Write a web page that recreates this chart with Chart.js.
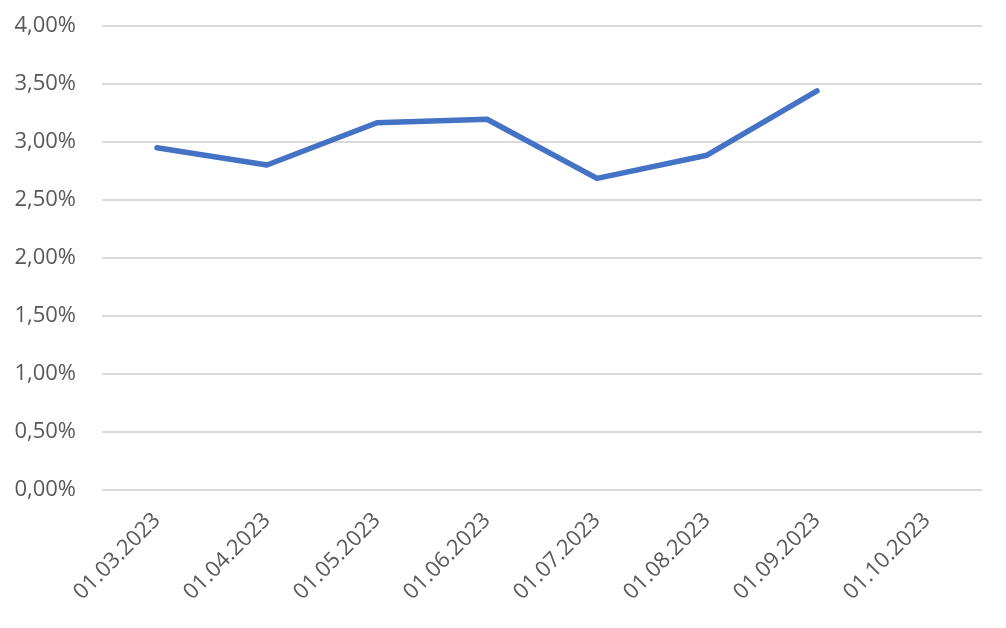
<!DOCTYPE html>
<html>
<head>
<meta charset="utf-8">
<script src="https://cdn.jsdelivr.net/npm/chart.js@4.4.0/dist/chart.umd.min.js"></script>
<style>
    html, body { margin: 0; padding: 0; background: #ffffff; }
    #wrap { width: 1006px; height: 628px; }
</style>
</head>
<body>
<div id="wrap"><canvas id="lineChart" width="1006" height="628"></canvas></div>
<script>
// categories (x axis)
var labels = ['01.03.2023', '01.04.2023', '01.05.2023', '01.06.2023', '01.07.2023', '01.08.2023', '01.09.2023', '01.10.2023'];
// rate in percent, last month has no value yet
var rateValues = [2.95, 2.80, 3.165, 3.195, 2.685, 2.885, 3.44, null];
// y axis ticks
var yTicks = [0, 0.5, 1, 1.5, 2, 2.5, 3, 3.5, 4];

function formatPercent(v) {
    return v.toFixed(2).replace('.', ',') + '%';
}

var ctx = document.getElementById('lineChart').getContext('2d');
var myChart = new Chart(ctx, {
    type: 'line',
    data: {
        labels: labels,
        datasets: [
            {
                label: 'Rate',
                data: rateValues,
                borderColor: '#4472C4',
                borderWidth: 5.5,
                borderCapStyle: 'round',
                borderJoinStyle: 'round',
                pointRadius: 0,
                pointHoverRadius: 0,
                fill: false,
                tension: 0,
                spanGaps: false,
            },
        ],
    },
    options: {
        responsive: false,
        animation: false,
        layout: {
            padding: { left: 0, right: 24, top: 26, bottom: 0 },
        },
        plugins: {
            legend: { display: false },
            tooltip: { enabled: false },
        },
        scales: {
            x: {
                offset: true,
                grid: { display: false },
                border: { display: false },
                ticks: {
                    color: '#595959',
                    font: { family: 'Open Sans', size: 22 },
                    maxRotation: 45,
                    minRotation: 45,
                    padding: 10,
                    autoSkip: false,
                },
                afterFit: function (scale) {
                    scale.height = 138.5;
                },
            },
            y: {
                min: 0,
                max: 4,
                afterBuildTicks: function (scale) {
                    scale.ticks = yTicks.map(function (v) { return { value: v }; });
                },
                grid: {
                    color: '#d9d9d9',
                    lineWidth: 2,
                    drawTicks: false,
                },
                border: { display: false },
                ticks: {
                    color: '#595959',
                    font: { family: 'Open Sans', size: 22 },
                    padding: 26,
                    callback: function (value) {
                        return formatPercent(value);
                    },
                },
                afterFit: function (scale) {
                    scale.width = 102;
                    // the tick padding would otherwise push the plot area down
                    scale.paddingTop = 0;
                    scale.paddingBottom = 0;
                },
            },
        },
    },
});
</script>
</body>
</html>
